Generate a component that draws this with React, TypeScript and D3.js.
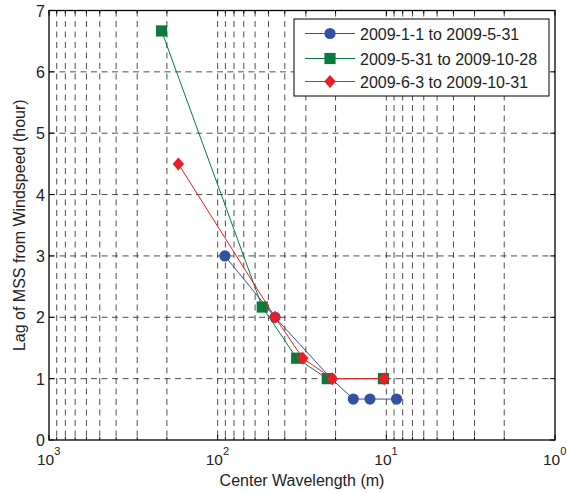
import * as d3 from "d3"

// wavelengths (m) and lags (hour)
const blueX = [90.6, 45.7, 21.2, 15.7, 12.5, 8.7]
const blueY = [3, 2, 1, 0.667, 0.667, 0.667]
const greenX = [215, 54.4, 34, 22.4, 10.4]
const greenY = [6.667, 2.167, 1.333, 1, 1]
const redX = [171, 45.7, 31.3, 20.9, 10.3]
const redY = [4.5, 2, 1.333, 1, 1]

const seriesNames = ["2009-1-1 to 2009-5-31", "2009-5-31 to 2009-10-28", "2009-6-3 to 2009-10-31"]
const colors = ["#3350a4", "#0b7a3e", "#ee1d25"]
const xDecades = [3, 2, 1, 0]
const yTicks = [0, 1, 2, 3, 4, 5, 6, 7]

const W = 567
const H = 493
const font = "Liberation Sans, Arial, Helvetica, sans-serif"

const Marker = ({ type, x, y, color }) => {
  if (type === "circle") return <circle cx={x} cy={y} r={5.6} fill={color} />
  if (type === "square") return <rect x={x - 5.6} y={y - 5.6} width={11.2} height={11.2} fill={color} />
  return <path d={`M${x},${y - 6.5}L${x + 5.8},${y}L${x},${y + 6.5}L${x - 5.8},${y}Z`} fill={color} />
}

export default function App() {
  const left = 49
  const right = 555
  const top = 10.5
  const bottom = 440

  const x = d3.scaleLog().domain([1000, 1]).range([left, right])
  const y = d3.scaleLinear().domain([0, 7]).range([bottom, top])

  const minorX = []
  for (let n = 0; n < 3; n++) {
    for (let k = 2; k <= 9; k++) minorX.push(k * Math.pow(10, n))
  }
  const majorX = xDecades.map((d) => Math.pow(10, d))

  const series = [
    { xs: blueX, ys: blueY, type: "circle" },
    { xs: greenX, ys: greenY, type: "square" },
    { xs: redX, ys: redY, type: "diamond" },
  ]

  const line = d3
    .line()
    .x((d) => x(d[0]))
    .y((d) => y(d[1]))

  const gridStyle = { stroke: "#222", strokeWidth: 0.8, strokeDasharray: "6,4.5" }

  return (
    <svg width={W} height={H} style={{ position: "absolute", left: 0, top: 0, background: "#fff" }}>
      <rect x={0} y={0} width={W} height={H} fill="#fff" />

      {/* grid */}
      {[...minorX, 100, 10].map((v, i) => (
        <line key={"gx" + i} x1={x(v)} x2={x(v)} y1={top} y2={bottom} {...gridStyle} />
      ))}
      {yTicks.slice(1, -1).map((v) => (
        <line key={"gy" + v} x1={left} x2={right} y1={y(v)} y2={y(v)} {...gridStyle} />
      ))}

      {/* ticks */}
      {minorX.map((v, i) => (
        <g key={"mt" + i} stroke="#000" strokeWidth={1}>
          <line x1={x(v)} x2={x(v)} y1={bottom} y2={bottom - 3} />
          <line x1={x(v)} x2={x(v)} y1={top} y2={top + 3} />
        </g>
      ))}
      {majorX.map((v, i) => (
        <g key={"Mt" + i} stroke="#000" strokeWidth={1}>
          <line x1={x(v)} x2={x(v)} y1={bottom} y2={bottom - 5} />
          <line x1={x(v)} x2={x(v)} y1={top} y2={top + 5} />
        </g>
      ))}
      {yTicks.map((v) => (
        <g key={"yt" + v} stroke="#000" strokeWidth={1}>
          <line x1={left} x2={left + 5} y1={y(v)} y2={y(v)} />
          <line x1={right} x2={right - 5} y1={y(v)} y2={y(v)} />
        </g>
      ))}

      {/* axes box */}
      <rect x={left} y={top} width={right - left} height={bottom - top} fill="none" stroke="#000" strokeWidth={1.3} />

      {/* tick labels */}
      {yTicks.map((v) => (
        <text key={"yl" + v} x={left - 4} y={y(v) + 6} textAnchor="end" fontSize={16} fontFamily={font} fill="#222">
          {v}
        </text>
      ))}
      {xDecades.map((d) => (
        <text key={"xl" + d} x={x(Math.pow(10, d)) - 12} y={465} fontSize={15.5} fontFamily={font} fill="#222">
          10
          <tspan dy={-10} fontSize={11}>
            {d}
          </tspan>
        </text>
      ))}

      {/* axis labels */}
      <text x={(left + right) / 2} y={486} textAnchor="middle" fontSize={16} fontFamily={font} fill="#222">
        Center Wavelength (m)
      </text>
      <text
        transform={`translate(25,${(top + bottom) / 2}) rotate(-90)`}
        textAnchor="middle"
        fontSize={16}
        fontFamily={font}
        fill="#222"
      >
        Lag of MSS from Windspeed (hour)
      </text>

      {/* data */}
      {series.map((s, i) => {
        const pts = s.xs.map((v, j) => [v, s.ys[j]])
        return (
          <g key={"s" + i}>
            <path d={line(pts)} fill="none" stroke={colors[i]} strokeWidth={1} />
            {pts.map((p, j) => (
              <Marker key={j} type={s.type} x={x(p[0])} y={y(p[1])} color={colors[i]} />
            ))}
          </g>
        )
      })}

      {/* legend */}
      <rect x={294} y={19} width={255} height={77} fill="#fff" stroke="#000" strokeWidth={1} />
      {seriesNames.map((name, i) => {
        const ly = [33.5, 58.5, 81.5][i]
        return (
          <g key={"lg" + i}>
            <line x1={305} x2={355} y1={ly} y2={ly} stroke={colors[i]} strokeWidth={1} />
            <Marker type={series[i].type} x={330} y={ly} color={colors[i]} />
            <text x={360} y={ly + 6} fontSize={16} fontFamily={font} fill="#222">
              {name}
            </text>
          </g>
        )
      })}
    </svg>
  )
}
